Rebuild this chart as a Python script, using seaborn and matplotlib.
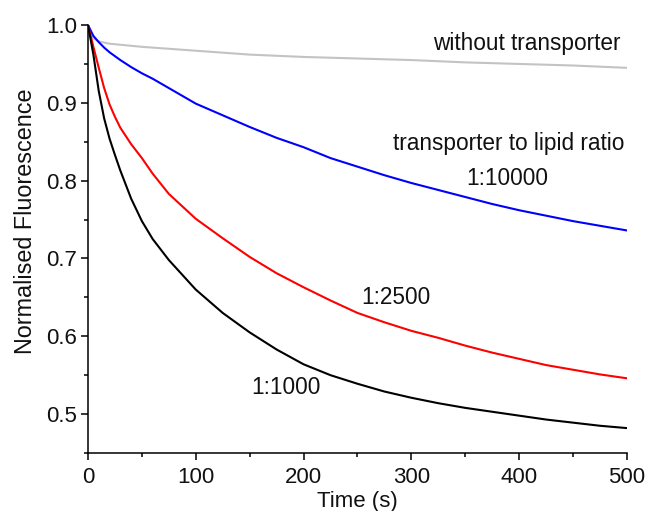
import numpy as np
import pandas as pd
import matplotlib
matplotlib.use("Agg")
import matplotlib.pyplot as plt
from matplotlib.ticker import MultipleLocator
import seaborn as sns

# values
t_control = [0, 2, 5, 10, 20, 50, 100, 150, 200, 250, 300, 350, 400, 450, 500]
f_control = [1.0, 0.990, 0.983, 0.979, 0.976, 0.972, 0.967, 0.962, 0.959, 0.957,
             0.955, 0.952, 0.950, 0.948, 0.945]

t_curve = [0, 5, 10, 15, 20, 25, 30, 40, 50, 60, 75, 100, 125, 150, 175, 200,
           225, 250, 275, 300, 325, 350, 375, 400, 425, 450, 475, 500]
f_10000 = [1.0, 0.986, 0.978, 0.971, 0.965, 0.960, 0.955, 0.946, 0.938, 0.931,
           0.919, 0.899, 0.884, 0.869, 0.855, 0.843, 0.829, 0.818, 0.807, 0.797,
           0.788, 0.779, 0.770, 0.762, 0.755, 0.748, 0.742, 0.736]
f_2500 = [1.0, 0.972, 0.945, 0.919, 0.898, 0.882, 0.868, 0.847, 0.829, 0.809,
          0.783, 0.751, 0.726, 0.702, 0.681, 0.663, 0.646, 0.630, 0.618, 0.607,
          0.598, 0.588, 0.579, 0.571, 0.563, 0.557, 0.551, 0.546]
f_1000 = [1.0, 0.962, 0.915, 0.880, 0.854, 0.833, 0.813, 0.777, 0.748, 0.725,
          0.698, 0.660, 0.630, 0.605, 0.583, 0.564, 0.550, 0.539, 0.529, 0.521,
          0.514, 0.508, 0.503, 0.498, 0.493, 0.489, 0.485, 0.482]

sns.set_style("ticks")
plt.rcParams['font.family'] = ['Liberation Sans', 'DejaVu Sans']

fs = 16
txt_col = '#111111'

fig = plt.figure(figsize=(6.47, 5.11), dpi=100)
ax = fig.add_axes([0.136, 0.1135, 0.833, 0.8375])

sns.lineplot(x=t_control, y=f_control, color='#c3c3c3', lw=1.5, ax=ax)
sns.lineplot(x=t_curve, y=f_10000, color='#0000ff', lw=1.5, ax=ax)
sns.lineplot(x=t_curve, y=f_2500, color='#ff0000', lw=1.5, ax=ax)
sns.lineplot(x=t_curve, y=f_1000, color='black', lw=1.5, ax=ax)

ax.set_xlim(0, 500)
ax.set_ylim(0.45, 1.0)
ax.xaxis.set_major_locator(MultipleLocator(100))
ax.xaxis.set_minor_locator(MultipleLocator(50))
ax.yaxis.set_minor_locator(MultipleLocator(0.05))
ax.set_yticks([0.5, 0.6, 0.7, 0.8, 0.9, 1.0])
ax.set_yticklabels(['0.5', '0.6', '0.7', '0.8', '0.9', '1.0'])

sns.despine(ax=ax)
for side in ['left', 'bottom']:
    ax.spines[side].set_linewidth(1.1)
    ax.spines[side].set_color('black')
ax.tick_params(which='major', direction='out', length=5, width=1.1,
               labelsize=fs, colors='black', labelcolor=txt_col)
ax.tick_params(axis='y', which='major', pad=3)
ax.tick_params(axis='x', which='major', pad=5)
ax.tick_params(which='minor', direction='out', length=3, width=1.1, colors='black')

ax.set_xlabel('Time (s)', fontsize=fs, labelpad=2, color=txt_col)
ax.set_ylabel('Normalised Fluorescence', fontsize=16.8, color=txt_col)
ax.yaxis.set_label_coords(-0.095, 0.542)

ax.text(407, 0.976, 'without transporter', fontsize=16.3, ha='center', va='center', color=txt_col)
ax.text(390, 0.848, 'transporter to lipid ratio', fontsize=16.3, ha='center', va='center', color=txt_col)
ax.text(389, 0.803, '1:10000', fontsize=16.3, ha='center', va='center', color=txt_col)
ax.text(286, 0.650, '1:2500', fontsize=16.3, ha='center', va='center', color=txt_col)
ax.text(184, 0.534, '1:1000', fontsize=16.3, ha='center', va='center', color=txt_col)

fig.savefig('out.png', dpi=100)
